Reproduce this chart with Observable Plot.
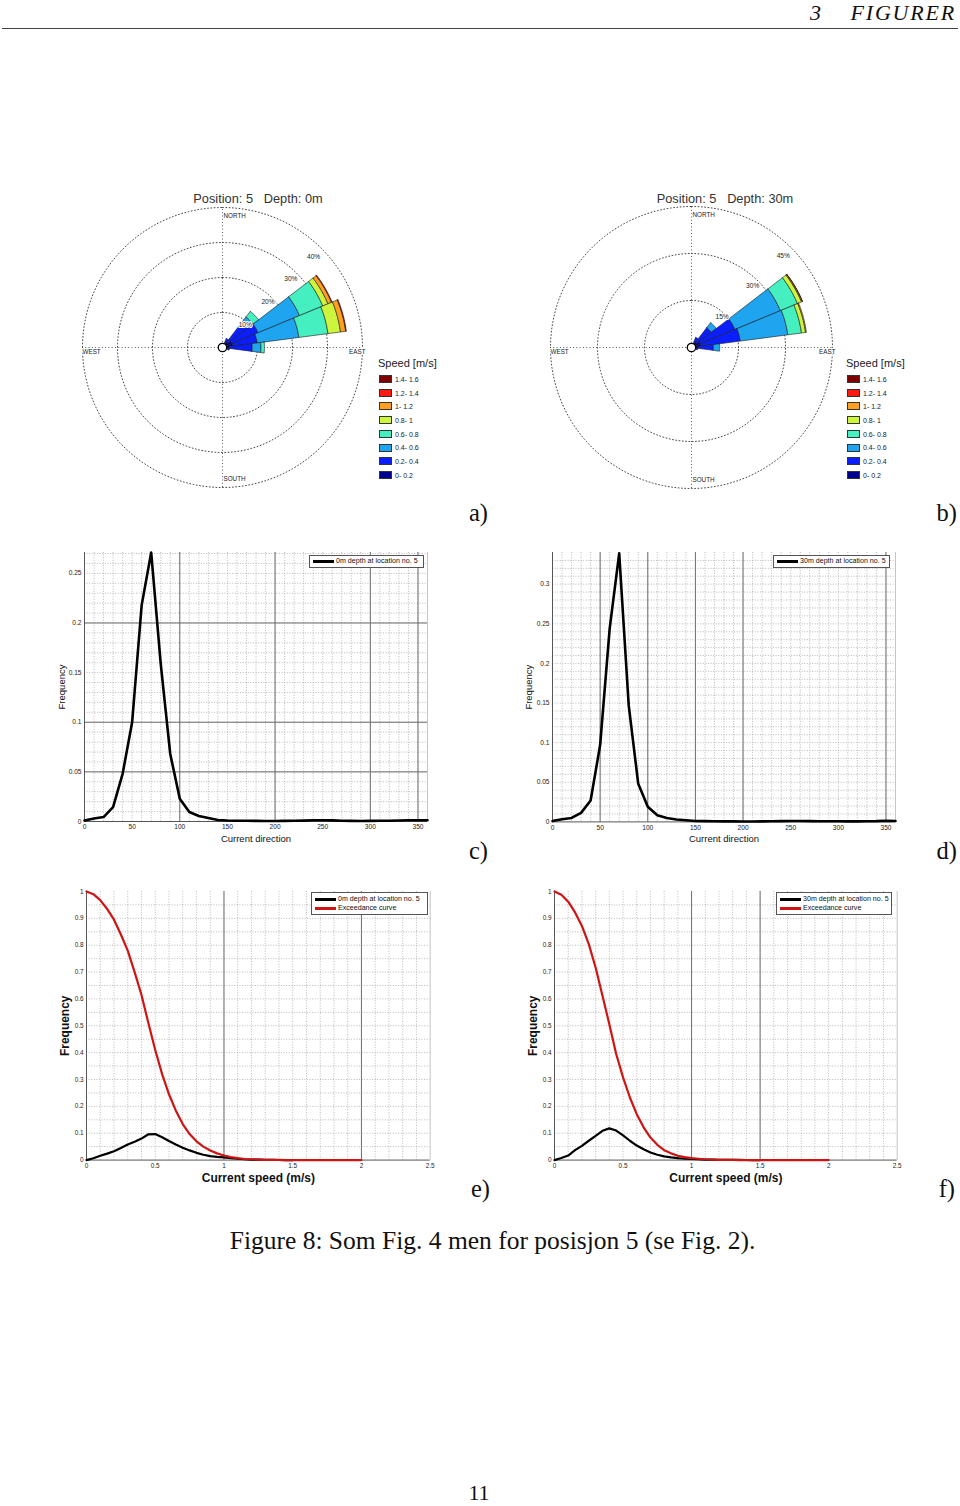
<!DOCTYPE html>
<html><head><meta charset="utf-8">
<script src="https://cdn.jsdelivr.net/npm/d3@7"></script>
<script src="https://cdn.jsdelivr.net/npm/@observablehq/plot@0.6"></script>
<style>
body{margin:0;background:#fff;}
#page{position:relative;width:960px;height:1506px;overflow:hidden;background:#fff;font-family:"Liberation Sans",Arial,sans-serif;}
.abs{position:absolute;white-space:nowrap;}
.abs svg{overflow:visible;}
</style></head><body><div id="page"></div>
<script>
// ---------------- DATA ----------------
const speedClasses = ["0- 0.2","0.2- 0.4","0.4- 0.6","0.6- 0.8","0.8- 1","1- 1.2","1.2- 1.4","1.4- 1.6"];
const speedColors  = ["#00008f","#0a1eff","#1fa5f0","#45efbf","#cdf53c","#ffa020","#ff1a10","#7f0000"];
const roseDirs = [15, 30, 45, 60, 75, 90, 105, 120];           // compass bin centres (15° bins)
// percent of time per speed class, one row per direction
const rose0m = [
  [0.3, 0.3],
  [1.0, 1.8],
  [2.0, 7.0, 2.0, 2.0],
  [3.0, 8.0, 12.8, 7.2, 1.6, 1.1, 0.2],
  [3.0, 7.0, 12.0, 8.4, 3.6, 1.5, 0.2],
  [2.0, 6.5, 2.5, 1.0],
  [0.8, 1.2],
  [0.3, 0.3]
];
const rose30m = [
  [0.3, 0.3],
  [1.0, 2.5],
  [2.0, 6.0, 2.0],
  [3.0, 12.0, 15.7, 5.9, 1.4, 0.3, 0.1],
  [3.0, 12.7, 15.3, 4.4, 1.3, 0.3],
  [2.0, 5.0, 2.0],
  [0.8, 1.2],
  [0.3, 0.3]
];
const rings0m = [10, 20, 30, 40];
const rings30m = [15, 30, 45];

const directionDeg = [0,10,20,30,40,50,60,70,80,90,100,110,120,130,140,150,160,170,180,190,200,210,220,230,240,250,260,270,280,290,300,310,320,330,340,350,360];
const dirFreq0m = [0.001,0.003,0.0045,0.0145,0.048,0.1,0.218,0.271,0.159,0.068,0.023,0.0095,0.0055,0.0035,0.0015,0.001,0.0008,0.0008,0.0006,0.0005,0.0005,0.0006,0.0007,0.0009,0.0012,0.0013,0.0011,0.0008,0.0006,0.0005,0.0006,0.0007,0.0008,0.001,0.0012,0.0013,0.0012];
const dirFreq30m = [0.001,0.0034,0.005,0.0114,0.027,0.097,0.244,0.339,0.147,0.048,0.019,0.0084,0.005,0.003,0.002,0.0012,0.001,0.0008,0.0007,0.0006,0.0005,0.0005,0.0006,0.0008,0.001,0.0012,0.0012,0.001,0.0008,0.0009,0.0008,0.0006,0.0006,0.0008,0.001,0.0015,0.0012];

const speedMs = [0,0.05,0.1,0.15,0.2,0.25,0.3,0.35,0.4,0.45,0.5,0.55,0.6,0.65,0.7,0.75,0.8,0.85,0.9,0.95,1.0,1.05,1.1,1.15,1.2,1.25,1.3,1.35,1.4,1.45,1.5,1.55,1.6,1.65,1.7,1.75,1.8,1.85,1.9,1.95,2.0];
const speedFreq0m = [0,0.007,0.016,0.024,0.033,0.045,0.058,0.068,0.08,0.096,0.097,0.085,0.071,0.058,0.046,0.036,0.027,0.02,0.015,0.012,0.01,0.007,0.005,0.003,0.002,0.0015,0.001,0.0005,0.0003,0.0002,0.0001];
const exceed0m = [1.0,0.99,0.968,0.935,0.895,0.84,0.78,0.70,0.615,0.51,0.41,0.32,0.245,0.184,0.134,0.097,0.07,0.05,0.036,0.025,0.017,0.011,0.007,0.004,0.003,0.002,0.001,0.0007,0.0004,0.0002,0.0001,0,0,0,0,0,0,0,0,0,0];
const speedFreq30m = [0,0.008,0.017,0.037,0.053,0.072,0.09,0.109,0.118,0.11,0.092,0.072,0.054,0.04,0.028,0.02,0.014,0.01,0.007,0.005,0.004,0.003,0.002,0.0015,0.001,0.0008,0.0006,0.0004,0.0003,0.0002,0.0001];
const exceed30m = [1.0,0.988,0.962,0.922,0.872,0.804,0.717,0.612,0.506,0.395,0.308,0.233,0.171,0.122,0.084,0.057,0.037,0.025,0.016,0.011,0.007,0.005,0.003,0.002,0.001,0.0007,0.0004,0.0002,0.0001,0,0,0,0,0,0,0,0,0,0,0,0];

const dirTicks = [0,50,100,150,200,250,300,350];
const speedTicks = [0,0.5,1,1.5,2,2.5];
const freqTicksC = [0,0.05,0.1,0.15,0.2,0.25];
const freqTicksD = [0,0.05,0.1,0.15,0.2,0.25,0.3];
const freqTicksEF = [0,0.1,0.2,0.3,0.4,0.5,0.6,0.7,0.8,0.9,1];

// ---------------- HELPERS ----------------
const page = document.getElementById("page");
const FONT = "'Liberation Sans', Arial, Helvetica, sans-serif";
const SERIF = "'Liberation Serif', 'Times New Roman', serif";

function put(node, left, top) {
  const d = document.createElement("div");
  d.className = "abs";
  d.style.left = left + "px"; d.style.top = top + "px";
  d.appendChild(node); page.appendChild(d); return d;
}
// positions a text by its baseline (o.base) or by its vertical centre (o.cy)
function txt(str, o) {
  const d = document.createElement("div");
  d.className = "abs";
  d.textContent = str;
  const s = o.size, L = (o.lh || 1) * s;
  d.style.fontFamily = o.family || FONT;
  d.style.fontSize = s + "px";
  d.style.lineHeight = L + "px";
  d.style.color = o.color || "#111";
  if (o.italic) d.style.fontStyle = "italic";
  if (o.weight) d.style.fontWeight = o.weight;
  if (o.ls) d.style.letterSpacing = o.ls + "px";
  const top = o.base != null ? o.base - L / 2 - 0.345 * s : o.cy - L / 2;
  d.style.top = top + "px";
  if (o.cx != null) { d.style.left = o.cx + "px"; d.style.transform = "translateX(-50%)"; }
  else if (o.right != null) { d.style.right = (960 - o.right) + "px"; }
  else d.style.left = o.left + "px";
  page.appendChild(d); return d;
}

// ---------------- WIND ROSE ----------------
function rose(values, rings, R, cx, cy, pxR) {
  const m = 10, size = 2 * pxR + 2 * m;
  const rad = a => a * Math.PI / 180;
  const rows = [];
  values.forEach((cls, i) => {
    const d = roseDirs[i]; let cum = 0;
    cls.forEach((v, k) => {
      if (!v) return;
      const r0 = cum, r1 = cum + v; cum = r1;
      const id = i + "-" + k, pts = [];
      for (let a = d - 7.5; a <= d + 7.5 + 1e-9; a += 1.5) pts.push([a, r1]);
      for (let a = d + 7.5; a >= d - 7.5 - 1e-9; a -= 1.5) pts.push([a, r0]);
      pts.push(pts[0]);
      pts.forEach(([a, r]) => rows.push({id, cls: k, x: r * Math.sin(rad(a)), y: r * Math.cos(rad(a))}));
    });
  });
  const ringRows = [];
  rings.forEach(rv => { for (let a = 0; a <= 360; a += 2) ringRows.push({ring: rv, x: rv * Math.sin(rad(a)), y: rv * Math.cos(rad(a))}); });
  const dots = {stroke: "#333", strokeWidth: 0.9, strokeDasharray: "0.9,2.4"};
  const lab = {fill: "#222", stroke: "white", strokeWidth: 2, fontSize: 6.3};
  const svg = Plot.plot({
    width: size, height: size, margin: m,
    x: {domain: [-R, R], axis: null}, y: {domain: [-R, R], axis: null},
    style: {fontFamily: FONT, fontSize: "6px", background: "transparent", overflow: "visible"},
    marks: [
      Plot.line(ringRows, {x: "x", y: "y", z: "ring", ...dots}),
      Plot.ruleX([0], {y1: -R, y2: R, ...dots}),
      Plot.ruleY([0], {x1: -R, x2: R, ...dots}),
      Plot.line(rows, {x: "x", y: "y", z: "id", fill: d => speedColors[d.cls], stroke: "#1a1a1a", strokeWidth: 0.6, curve: "linear"}),
      Plot.text(rings, {x: d => 0.92 * d * Math.SQRT1_2, y: d => 0.92 * d * Math.SQRT1_2, text: d => d + "%", ...lab, fontSize: 6.6}),
      Plot.text([{t: "NORTH", x: 0, y: R * 0.94}, {t: "SOUTH", x: 0, y: -R * 0.94}], {x: "x", y: "y", text: "t", textAnchor: "start", dx: 1, ...lab}),
      Plot.text([{t: "WEST", x: -R, y: 0}], {x: "x", y: "y", text: "t", textAnchor: "start", dy: 4, ...lab}),
      Plot.text([{t: "EAST", x: R, y: 0}], {x: "x", y: "y", text: "t", textAnchor: "end", dx: 3, dy: 4, ...lab}),
      Plot.dot([{x: 0, y: 0}], {x: "x", y: "y", r: 4.2, fill: "white", stroke: "#000", strokeWidth: 1.3})
    ]
  });
  put(svg, cx - size / 2, cy - size / 2);
}

function roseLegend(left) {
  txt("Speed [m/s]", {left: left, cy: 363, size: 11, color: "#222"});
  const order = [7, 6, 5, 4, 3, 2, 1, 0];
  order.forEach((ci, j) => {
    const top = 375 + j * 13.7;
    const sw = document.createElement("div");
    sw.className = "abs";
    Object.assign(sw.style, {left: (left + 1) + "px", top: top + "px", width: "13px", height: "8px", background: speedColors[ci], boxSizing: "border-box", border: "0.6px solid #333"});
    page.appendChild(sw);
    txt(speedClasses[ci], {left: left + 17, cy: top + 4.3, size: 7, color: "#222"});
  });
}

// ---------------- LINE PANELS ----------------
function panel(cfg) {
  const mL = 40, mR = 10, mT = 8, mB = 34;
  const [x0, x1] = cfg.xDomain, [y0] = cfg.yDomain;
  const marks = [
    Plot.ruleX(cfg.minorX, {stroke: "#9c9c9c", strokeWidth: 0.7, strokeDasharray: "1,1.6"}),
    Plot.ruleY(cfg.minorY, {stroke: "#9c9c9c", strokeWidth: 0.7, strokeDasharray: "1,1.6"}),
    Plot.ruleX(cfg.majorX, {stroke: "#6e6e6e", strokeWidth: 1}),
    Plot.ruleY(cfg.majorY, {stroke: "#6e6e6e", strokeWidth: 1}),
    Plot.ruleX([x1], {stroke: "#b5b5b5", strokeWidth: 0.8}),
    Plot.ruleX([x0], {stroke: "#444", strokeWidth: 0.9}),
    Plot.ruleY([y0], {stroke: "#444", strokeWidth: 0.9}),
    Plot.axisX({ticks: cfg.xTicks, tickSize: 0, tickPadding: 3, tickFormat: d => String(d), label: null, fill: "#222"}),
    Plot.axisY({ticks: cfg.yTicks, tickSize: 0, tickPadding: 3, tickFormat: d => String(d), label: null, fill: "#222"})
  ];
  cfg.series.forEach(s => {
    const rows = s.y.map((v, i) => ({x: s.x[i], y: v}));
    marks.push(Plot.line(rows, {x: "x", y: "y", stroke: s.color, strokeWidth: s.width, curve: "linear", strokeLinejoin: "round"}));
  });
  marks.push(Plot.text([cfg.xLabel], {frameAnchor: "bottom", textAnchor: "middle", dy: cfg.xLabelDy, lineAnchor: "middle", fontSize: cfg.labelSize, fontWeight: cfg.labelWeight, fill: "#111"}));
  marks.push(Plot.text([cfg.yLabel], {frameAnchor: "left", textAnchor: "middle", dx: -cfg.yLabelDx, rotate: -90, lineAnchor: "middle", fontSize: cfg.labelSize, fontWeight: cfg.labelWeight, fill: "#111"}));
  const svg = Plot.plot({
    width: mL + cfg.w + mR, height: mT + cfg.h + mB,
    marginLeft: mL, marginRight: mR, marginTop: mT, marginBottom: mB,
    x: {domain: cfg.xDomain}, y: {domain: cfg.yDomain},
    style: {fontFamily: FONT, fontSize: cfg.tickSize + "px", background: "transparent", overflow: "visible"},
    marks
  });
  put(svg, cfg.left - mL, cfg.top - mT);
}

function lineLegend(left, top, w, entries) {
  const h = entries.length === 1 ? 13 : 23;
  const box = document.createElement("div");
  box.className = "abs";
  Object.assign(box.style, {left: left + "px", top: top + "px", width: w + "px", height: h + "px", background: "#fff", border: "1px solid #555", boxSizing: "border-box"});
  page.appendChild(box);
  entries.forEach((e, i) => {
    const cy = top + (entries.length === 1 ? 6.5 : 7.5 + i * 9);
    const ln = document.createElement("div");
    ln.className = "abs";
    Object.assign(ln.style, {left: (left + 4) + "px", top: (cy - 1.2) + "px", width: "21px", height: "2.4px", background: e.color});
    page.appendChild(ln);
    txt(e.label, {left: left + 27, cy: cy, size: 7.1, color: "#111"});
  });
}

// ---------------- PAGE ----------------
txt("3", {left: 810, base: 20, size: 22, lh: 0.8, family: SERIF, italic: true});
txt("FIGURER", {right: 956, base: 20, size: 22, lh: 0.8, ls: 1.8, family: SERIF, italic: true});
const hr = document.createElement("div"); hr.className = "abs";
Object.assign(hr.style, {left: "2px", top: "28px", width: "956px", height: "1px", background: "#444"});
page.appendChild(hr);

txt("Position: 5   Depth: 0m", {cx: 258, cy: 199, size: 12.8, color: "#333"}).style.whiteSpace = "pre";
txt("Position: 5   Depth: 30m", {cx: 725, cy: 199, size: 12.8, color: "#333"}).style.whiteSpace = "pre";
rose(rose0m, rings0m, 40, 222, 347, 140);
rose(rose30m, rings30m, 45, 691, 347, 141);
roseLegend(378);
roseLegend(846);

const dirMinorX = d3.range(10, 360, 10);
panel({left: 84.3, top: 552, w: 343, h: 269, xDomain: [0, 360], yDomain: [0, 0.271],
  xTicks: dirTicks, yTicks: freqTicksC, minorX: dirMinorX, minorY: d3.range(0.01, 0.271, 0.01),
  majorX: [100, 200, 300, 350], majorY: [0.05, 0.1, 0.2], tickSize: 6.6,
  series: [{x: directionDeg, y: dirFreq0m, color: "#000", width: 2.6}],
  xLabel: "Current direction", xLabelDy: 17, yLabel: "Frequency", yLabelDx: 23, labelSize: 9.5, labelWeight: "normal"});
panel({left: 552, top: 552.3, w: 343, h: 269.4, xDomain: [0, 360], yDomain: [0, 0.34],
  xTicks: dirTicks, yTicks: freqTicksD, minorX: dirMinorX, minorY: d3.range(0.01, 0.34, 0.01),
  majorX: [50, 100, 150, 200, 350], majorY: [], tickSize: 6.6,
  series: [{x: directionDeg, y: dirFreq30m, color: "#000", width: 2.6}],
  xLabel: "Current direction", xLabelDy: 17, yLabel: "Frequency", yLabelDx: 24, labelSize: 9.5, labelWeight: "normal"});
panel({left: 86.3, top: 890.7, w: 343.7, h: 268.6, xDomain: [0, 2.5], yDomain: [0, 1],
  xTicks: speedTicks, yTicks: freqTicksEF, minorX: d3.range(0.1, 2.5, 0.1), minorY: d3.range(0.05, 1, 0.05),
  majorX: [1, 2], majorY: [], tickSize: 6.4,
  series: [{x: speedMs, y: speedFreq0m, color: "#000", width: 2.2}, {x: speedMs, y: exceed0m, color: "#d01414", width: 2.2}],
  xLabel: "Current speed (m/s)", xLabelDy: 18, yLabel: "Frequency", yLabelDx: 21, labelSize: 12, labelWeight: "bold"});
panel({left: 554.3, top: 890.7, w: 342.7, h: 268.6, xDomain: [0, 2.5], yDomain: [0, 1],
  xTicks: speedTicks, yTicks: freqTicksEF, minorX: d3.range(0.1, 2.5, 0.1), minorY: d3.range(0.05, 1, 0.05),
  majorX: [1, 1.5], majorY: [], tickSize: 6.4,
  series: [{x: speedMs, y: speedFreq30m, color: "#000", width: 2.2}, {x: speedMs, y: exceed30m, color: "#d01414", width: 2.2}],
  xLabel: "Current speed (m/s)", xLabelDy: 18, yLabel: "Frequency", yLabelDx: 21, labelSize: 12, labelWeight: "bold"});

lineLegend(309, 555, 115, [{label: "0m depth at location no. 5", color: "#000"}]);
lineLegend(773, 555, 117, [{label: "30m depth at location no. 5", color: "#000"}]);
lineLegend(311, 892, 117, [{label: "0m depth at location no. 5", color: "#000"}, {label: "Exceedance curve", color: "#d01414"}]);
lineLegend(776, 892, 116, [{label: "30m depth at location no. 5", color: "#000"}, {label: "Exceedance curve", color: "#d01414"}]);

const lblSize = 24.5;
txt("a)", {right: 488, cy: 513, size: lblSize, family: SERIF});
txt("b)", {right: 957, cy: 513, size: lblSize, family: SERIF});
txt("c)", {right: 488, cy: 851, size: lblSize, family: SERIF});
txt("d)", {right: 957, cy: 851, size: lblSize, family: SERIF});
txt("e)", {right: 490, cy: 1189, size: lblSize, family: SERIF});
txt("f)", {right: 955, cy: 1189, size: lblSize, family: SERIF});
txt("Figure 8: Som Fig. 4 men for posisjon 5 (se Fig. 2).", {cx: 492.5, cy: 1241, size: 25.5, family: SERIF});
txt("11", {cx: 479, base: 1500.5, size: 22, lh: 0.75, family: SERIF});
</script></body></html>
